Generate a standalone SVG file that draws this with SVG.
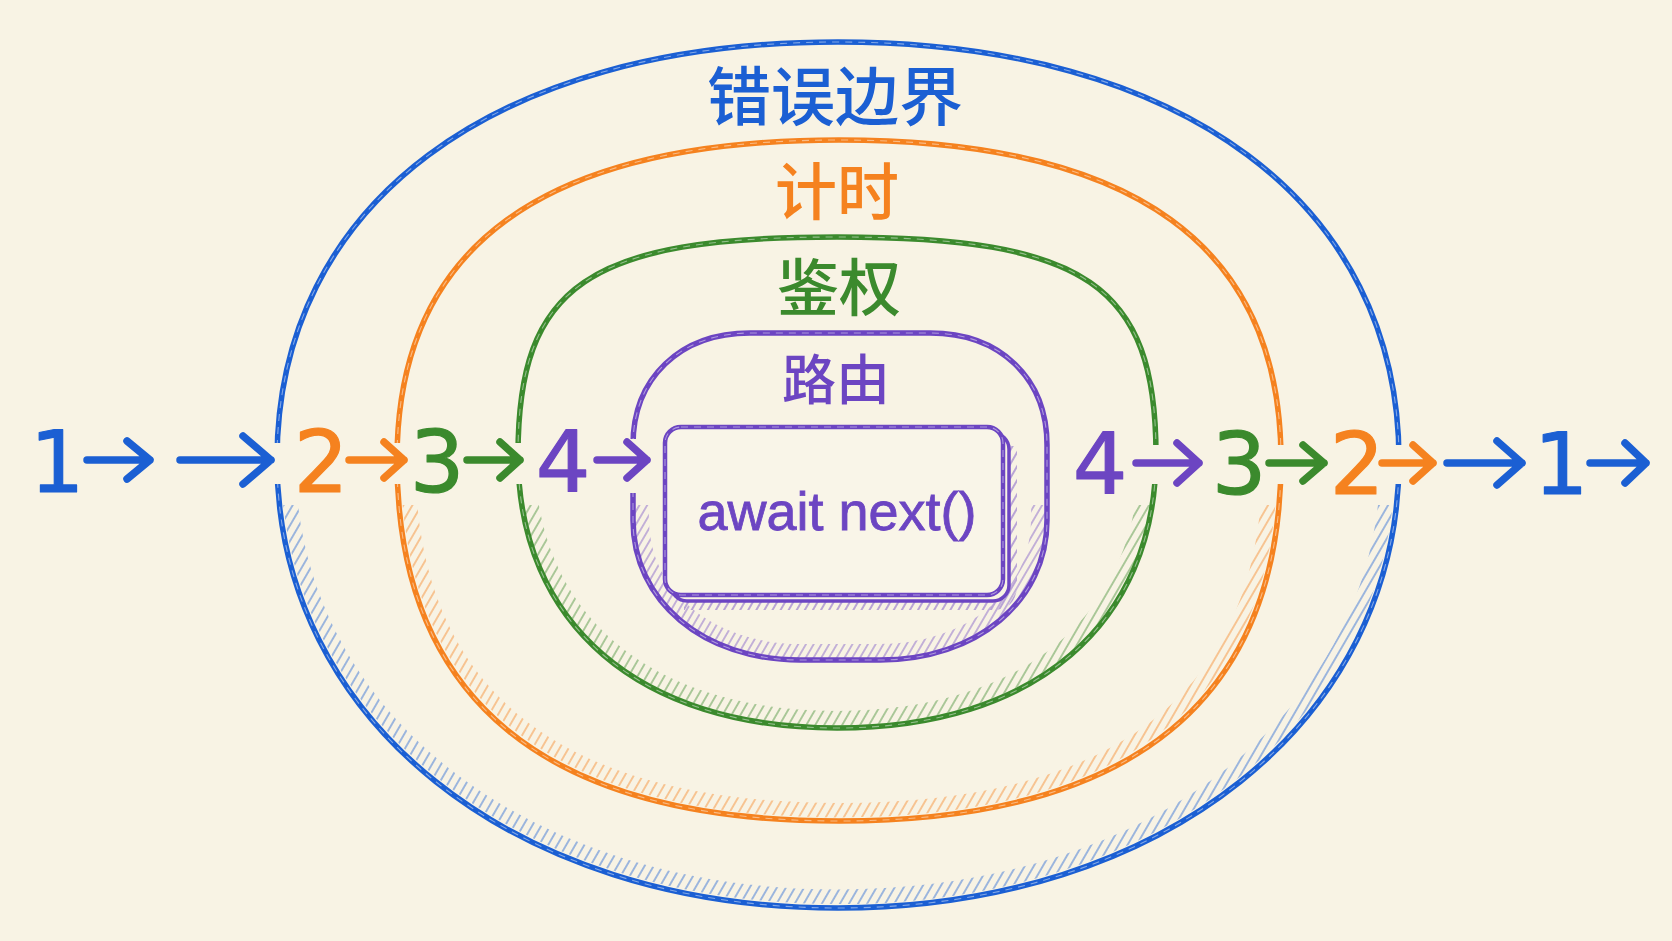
<svg xmlns="http://www.w3.org/2000/svg" width="1672" height="941" viewBox="0 0 1672 941">
<style>
.ring{fill:none;stroke-width:5.5;stroke-linecap:round;stroke-linejoin:round}
.tex{fill:none;stroke:#ffffff;stroke-opacity:.45;stroke-width:1.1;stroke-dasharray:7 6}
.hatch{fill:none;stroke-width:15;opacity:.6}
.arr{fill:none;stroke-width:7.5;stroke-linecap:round;stroke-linejoin:round}
.num{font-family:"DejaVu Sans","Liberation Sans",sans-serif;font-size:86px;text-anchor:middle;stroke-width:1.2;stroke-linejoin:round}
.cjk{font-family:"Noto Sans CJK SC","Noto Sans",sans-serif;font-weight:500;text-anchor:middle}
.code{font-family:"Liberation Sans","Noto Sans",sans-serif;font-size:54px;text-anchor:middle;stroke:#6c45c2;stroke-width:.8}
.cb{stroke:#1b5fd3}.co{stroke:#f5821f}.cg{stroke:#3b8a2d}.cp{stroke:#6c45c2}
.fb{fill:#1b5fd3}.fo{fill:#f5821f}.fg{fill:#3b8a2d}.fp{fill:#6c45c2}
</style>
<defs>
<path id="pBlue" d="M 277 460 C 277 204 494 42 838 42 C 1182 42 1399 204 1399 460 C 1399 720 1163 908 838 908 C 513 908 277 720 277 460 Z"/>
<path id="pOrange" d="M 397 460 C 397 246 543 140 839 140 C 1135 140 1281 246 1281 460 C 1281 698 1135 821 839 821 C 543 821 397 698 397 460 Z"/>
<path id="pGreen" d="M 518 455 C 518 285 588 237 837 237 C 1086 237 1156 285 1156 455 C 1156 624 1035 728 837 728 C 639 728 518 624 518 455 Z"/>
<path id="pPurple" d="M 633 445 C 633 378 680 333 750 333 L 930 333 C 1000 333 1047 378 1047 445 L 1047 520 C 1047 601 977 660 880 660 L 800 660 C 703 660 633 601 633 520 Z"/>
<pattern id="hB" width="8" height="8" patternUnits="userSpaceOnUse" patternTransform="rotate(30)"><line x1="1" y1="0" x2="1" y2="8" stroke="#1b5fd3" stroke-width="1.4"/></pattern>
<pattern id="hO" width="8" height="8" patternUnits="userSpaceOnUse" patternTransform="rotate(30)"><line x1="1" y1="0" x2="1" y2="8" stroke="#f5821f" stroke-width="1.4"/></pattern>
<pattern id="hG" width="8" height="8" patternUnits="userSpaceOnUse" patternTransform="rotate(30)"><line x1="1" y1="0" x2="1" y2="8" stroke="#3b8a2d" stroke-width="1.4"/></pattern>
<pattern id="hP" width="7" height="7" patternUnits="userSpaceOnUse" patternTransform="rotate(30)"><line x1="1" y1="0" x2="1" y2="7" stroke="#6c45c2" stroke-width="1.3"/></pattern>
<clipPath id="lower"><rect x="0" y="505" width="1672" height="436"/></clipPath>
<mask id="gaps" maskUnits="userSpaceOnUse" x="0" y="0" width="1672" height="941">
<rect width="1672" height="941" fill="#fff"/>
<rect x="255" y="443" width="370" height="41" fill="#000"/>
<rect x="612" y="439" width="45" height="54" fill="#000"/>
<rect x="1135" y="445" width="285" height="39" fill="#000"/>
</mask>
</defs>
<rect width="1672" height="941" fill="#f8f3e4"/>

<g id="hatching" clip-path="url(#lower)">
<use href="#pBlue" class="hatch" stroke="url(#hB)" transform="translate(838 460) scale(.98 .975) translate(-838 -460)"/>
<use href="#pOrange" class="hatch" stroke="url(#hO)" transform="translate(839 460) scale(.975 .97) translate(-839 -460)"/>
<use href="#pGreen" class="hatch" stroke="url(#hG)" transform="translate(837 455) scale(.97 .964) translate(-837 -455)"/>
<use href="#pPurple" class="hatch" stroke="url(#hP)" transform="translate(840 497) scale(.958 .946) translate(-840 -497)"/>
</g>

<g mask="url(#gaps)">
<g id="ring-error"><use href="#pBlue" class="ring cb"/><use href="#pBlue" class="tex"/></g>
<g id="ring-timing"><use href="#pOrange" class="ring co"/><use href="#pOrange" class="tex"/></g>
<g id="ring-auth"><use href="#pGreen" class="ring cg"/><use href="#pGreen" class="tex"/></g>
<g id="ring-route"><use href="#pPurple" class="ring cp"/><use href="#pPurple" class="tex"/></g>
</g>

<g id="label-error"><text class="cjk fb" x="835" y="120" font-size="64">错误边界</text></g>
<g id="label-timing"><text class="cjk fo" x="837" y="215" font-size="62">计时</text></g>
<g id="label-auth"><text class="cjk fg" x="839" y="311" font-size="62">鉴权</text></g>
<g id="label-route"><text class="cjk fp" x="836" y="400" font-size="54">路由</text></g>

<g id="node-next">
<path d="M 684 606 L 992 606 Q 1012 606 1013 586 L 1013 446" fill="none" stroke="url(#hP)" stroke-width="8" opacity=".7"/>
<rect x="671" y="433" width="338" height="168" rx="16" fill="none" stroke="#6c45c2" stroke-width="3.5"/>
<rect x="665" y="427" width="338" height="168" rx="16" fill="#f9f5e8" stroke="#6c45c2" stroke-width="4.5"/>
<rect x="665" y="427" width="338" height="168" rx="16" class="tex"/>
<text class="code fp" x="837" y="530">await next()</text>
</g>

<g id="connectors">
<path class="arr cb" d="M 87 460 L 150 460 M 127 441 L 150 460 L 127 479"/>
<path class="arr cb" stroke-width="9" d="M 180 460 L 271 460 M 243 436 L 271 460 L 243 484"/>
<path class="arr co" d="M 349 460 L 404 460 M 384 442 L 404 460 L 384 478"/>
<path class="arr cg" d="M 467 460 L 520 460 M 500 442 L 520 460 L 500 478"/>
<path class="arr cp" d="M 597 460 L 647 460 M 627 442 L 647 460 L 627 478"/>
<path class="arr cp" d="M 1136 463 L 1199 463 M 1177 443 L 1199 463 L 1177 483"/>
<path class="arr cg" d="M 1269 463 L 1324 463 M 1303 445 L 1324 463 L 1303 481"/>
<path class="arr co" d="M 1382 463 L 1433 463 M 1413 445 L 1433 463 L 1413 481"/>
<path class="arr cb" stroke-width="8.5" d="M 1447 463 L 1522 463 M 1497 441 L 1522 463 L 1497 485"/>
<path class="arr cb" d="M 1590 463 L 1646 463 M 1625 443 L 1646 463 L 1625 483"/>
</g>

<g id="steps">
<text class="num fb cb" x="57" y="492">1</text>
<text class="num fo co" x="321" y="492">2</text>
<text class="num fg cg" x="437" y="492">3</text>
<text class="num fp cp" x="563" y="492">4</text>
<text class="num fp cp" x="1100" y="494">4</text>
<text class="num fg cg" x="1239" y="494">3</text>
<text class="num fo co" x="1357" y="494">2</text>
<text class="num fb cb" x="1561" y="494">1</text>
</g>
</svg>
